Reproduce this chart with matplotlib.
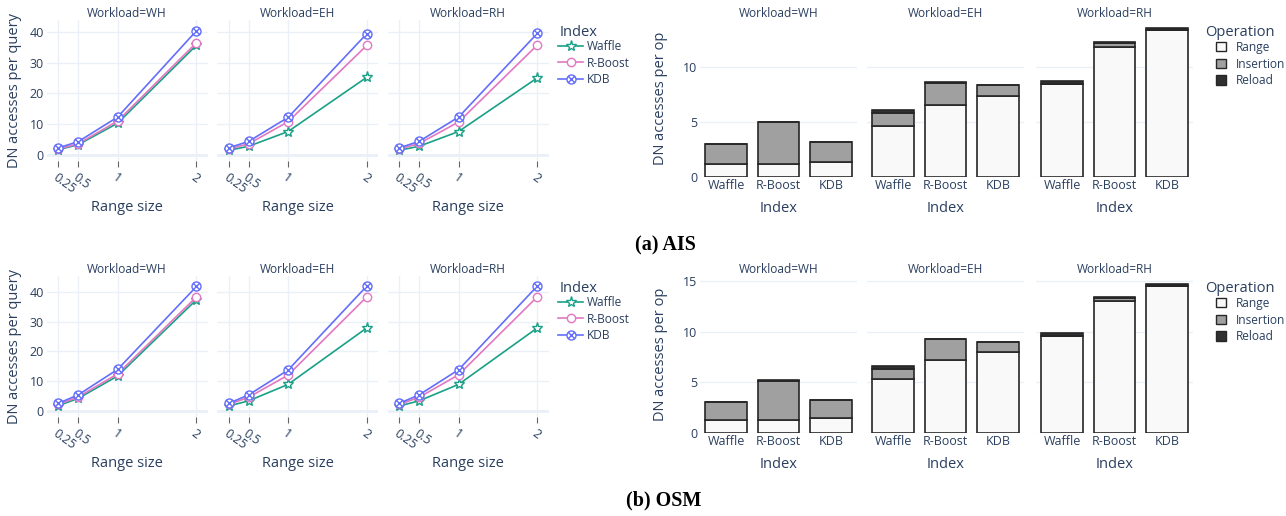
import numpy as np
import matplotlib
matplotlib.use('Agg')
import matplotlib.pyplot as plt
from matplotlib.path import Path
from matplotlib.lines import Line2D
from matplotlib.patches import Patch

# ---- data ----
workloads = ['WH', 'EH', 'RH']
indexes = ['Waffle', 'R-Boost', 'KDB']
range_sizes = [0.25, 0.5, 1, 2]
range_labels = ['0.25', '0.5', '1', '2']

# DN accesses per query, per workload, per index
ais_query = {
    'WH': {'Waffle': [1.7, 3.3, 10.3, 35.7], 'R-Boost': [1.9, 3.6, 11.0, 36.5], 'KDB': [2.3, 4.3, 12.3, 40.4]},
    'EH': {'Waffle': [1.5, 2.8, 7.6, 25.3], 'R-Boost': [1.9, 3.6, 10.8, 35.7], 'KDB': [2.3, 4.4, 12.2, 39.5]},
    'RH': {'Waffle': [1.5, 2.8, 7.6, 25.1], 'R-Boost': [1.9, 3.7, 10.7, 35.8], 'KDB': [2.3, 4.4, 12.3, 39.6]},
}
osm_query = {
    'WH': {'Waffle': [1.9, 4.3, 11.8, 37.3], 'R-Boost': [2.3, 4.8, 12.5, 38.2], 'KDB': [2.7, 5.5, 14.0, 41.7]},
    'EH': {'Waffle': [1.8, 3.5, 9.0, 27.9], 'R-Boost': [2.3, 4.7, 12.1, 38.3], 'KDB': [2.7, 5.5, 13.8, 41.9]},
    'RH': {'Waffle': [1.8, 3.5, 9.0, 27.9], 'R-Boost': [2.3, 4.7, 12.2, 38.3], 'KDB': [2.7, 5.5, 13.9, 41.9]},
}

# DN accesses per op, split by operation (Waffle, R-Boost, KDB)
ais_range = {'WH': [1.15, 1.2, 1.33], 'EH': [4.64, 6.48, 7.3], 'RH': [8.4, 11.82, 13.33]}
ais_insert = {'WH': [1.8, 3.73, 1.83], 'EH': [1.12, 2.07, 1.0], 'RH': [0.03, 0.34, 0.02]}
ais_reload = {'WH': [0.04, 0.02, 0.03], 'EH': [0.3, 0.02, 0.02], 'RH': [0.3, 0.05, 0.15]}

osm_range = {'WH': [1.25, 1.28, 1.42], 'EH': [5.27, 7.15, 7.94], 'RH': [9.55, 13.0, 14.5]}
osm_insert = {'WH': [1.8, 3.87, 1.82], 'EH': [1.05, 2.1, 1.0], 'RH': [0.02, 0.35, 0.02]}
osm_reload = {'WH': [0.03, 0.02, 0.03], 'EH': [0.3, 0.02, 0.02], 'RH': [0.25, 0.05, 0.2]}

# ---- style ----
W, H = 1286, 516
TXT = '#2a3f5f'
GRID = '#EBF0F8'
line_colors = {'Waffle': '#1AA087', 'R-Boost': '#E377C2', 'KDB': '#636EFA'}
op_colors = {'Range': '#F9F9F9', 'Insertion': '#A0A0A0', 'Reload': '#303030'}

circle_x = Path.make_compound_path(
    Path.unit_circle(),
    Path([(-0.7, -0.7), (0.7, 0.7)], [Path.MOVETO, Path.LINETO]),
    Path([(-0.7, 0.7), (0.7, -0.7)], [Path.MOVETO, Path.LINETO]),
)
markers = {'Waffle': '*', 'R-Boost': 'o', 'KDB': circle_x}
msizes = {'Waffle': 8, 'R-Boost': 6, 'KDB': 6.5}

TICK = 9
LEGF = 8.6
LAB = 10.5

plt.rcParams['font.family'] = ['Open Sans', 'DejaVu Sans']
plt.rcParams['text.color'] = TXT
plt.rcParams['axes.labelcolor'] = TXT
plt.rcParams['xtick.color'] = TXT
plt.rcParams['ytick.color'] = TXT

fig = plt.figure(figsize=(W / 100, H / 100), dpi=100)


def box(x0, x1, ytop, ybot):
    return [x0 / W, 1 - ybot / H, (x1 - x0) / W, (ybot - ytop) / H]


def clean(ax):
    for s in ax.spines.values():
        s.set_visible(False)
    ax.set_axisbelow(True)


def style_legend(leg):
    for t in leg.get_texts():
        t.set_color(TXT)


def line_row(data, yoff, ylim):
    lefts = [46.5, 217, 387.5]
    for i, wl in enumerate(workloads):
        ax = fig.add_axes(box(lefts[i], lefts[i] + 161, 20 + yoff, 161 + yoff))
        clean(ax)
        for name in indexes:
            ax.plot(range_sizes, data[wl][name], color=line_colors[name], lw=1.2,
                    marker=markers[name], ms=msizes[name], mfc='white',
                    mec=line_colors[name], mew=1.0, zorder=3)
        ax.set_xlim(0.098, 2.14)
        ax.set_ylim(*ylim)
        ax.set_xticks(range_sizes)
        ax.set_xticklabels(range_labels, rotation=-36, ha='left', va='top',
                           rotation_mode='anchor', fontsize=TICK)
        ax.set_yticks([0, 10, 20, 30, 40])
        ax.grid(True, color=GRID, lw=1)
        ax.axhline(0, color=GRID, lw=2, zorder=1)
        ax.tick_params(axis='x', length=4, color='#666', pad=3)
        ax.tick_params(axis='y', length=0, pad=2, labelsize=TICK)
        if i > 0:
            ax.set_yticklabels([])
        else:
            ax.set_ylabel('DN accesses per query', fontsize=LAB, labelpad=5)
        ax.set_xlabel('Range size', fontsize=LAB, labelpad=3)
        ax.set_title('Workload=' + wl, fontsize=8.6, pad=2, color=TXT)
    handles = [Line2D([], [], color=line_colors[n], lw=1.2, marker=markers[n],
                      ms=msizes[n], mfc='white', mec=line_colors[n], mew=1.0)
               for n in indexes]
    fig.text(560 / W, 1 - (32 + yoff) / H, 'Index', fontsize=LAB, va='center', ha='left')
    leg = fig.legend(handles, indexes, loc='upper left',
                     bbox_to_anchor=(558 / W, 1 - (40 + yoff) / H), frameon=False,
                     fontsize=LEGF, handlelength=2.1, handletextpad=0.3,
                     labelspacing=0.3, borderaxespad=0, borderpad=0)
    style_legend(leg)


def bar_row(rng, ins, rel, yoff, ylim, yticks):
    lefts = [700, 867, 1036]
    x = np.arange(len(indexes))
    for i, wl in enumerate(workloads):
        ax = fig.add_axes(box(lefts[i], lefts[i] + 157, 20 + yoff, 176.7 + yoff))
        clean(ax)
        r = np.array(rng[wl])
        s = np.array(ins[wl])
        d = np.array(rel[wl])
        kw = dict(width=0.8, edgecolor='#262626', linewidth=1.2, zorder=3)
        ax.bar(x, r, color=op_colors['Range'], **kw)
        ax.bar(x, s, bottom=r, color=op_colors['Insertion'], **kw)
        ax.bar(x, d, bottom=r + s, color=op_colors['Reload'], **kw)
        ax.set_xlim(-0.5, 2.5)
        ax.set_ylim(*ylim)
        ax.set_xticks(x)
        ax.set_xticklabels(indexes, fontsize=TICK)
        ax.set_yticks(yticks)
        ax.grid(True, axis='y', color=GRID, lw=1)
        ax.tick_params(axis='x', length=0, pad=2)
        ax.tick_params(axis='y', length=0, pad=2, labelsize=TICK)
        if i > 0:
            ax.set_yticklabels([])
        else:
            ax.set_ylabel('DN accesses per op', fontsize=LAB, labelpad=11)
        ax.set_xlabel('Index', fontsize=LAB, labelpad=6)
        ax.set_title('Workload=' + wl, fontsize=8.6, pad=2, color=TXT)
    ops = ['Range', 'Insertion', 'Reload']
    handles = [Patch(facecolor=op_colors[o], edgecolor='#262626', lw=1.0) for o in ops]
    fig.text(1205 / W, 1 - (32 + yoff) / H, 'Operation', fontsize=LAB, va='center', ha='left')
    leg = fig.legend(handles, ops, loc='upper left',
                     bbox_to_anchor=(1216 / W, 1 - (41 + yoff) / H), frameon=False,
                     fontsize=LEGF, handlelength=0.8, handleheight=0.8,
                     handletextpad=0.9, labelspacing=0.3, borderaxespad=0,
                     borderpad=0)
    style_legend(leg)


line_row(ais_query, 0, (-2.0, 43.9))
bar_row(ais_range, ais_insert, ais_reload, 0, (0, 14.25), [0, 5, 10])
line_row(osm_query, 256, (-1.9, 45.2))
bar_row(osm_range, osm_insert, osm_reload, 256, (0, 15.5), [0, 5, 10, 15])

fig.text(665 / W, 1 - 245 / H, '(a) AIS', ha='center', va='center',
         family=['Liberation Serif', 'DejaVu Serif'], weight='bold', fontsize=14.5, color='black')
fig.text(664 / W, 1 - 500 / H, '(b) OSM', ha='center', va='center',
         family=['Liberation Serif', 'DejaVu Serif'], weight='bold', fontsize=14.5, color='black')

fig.savefig('out.png', dpi=100)
